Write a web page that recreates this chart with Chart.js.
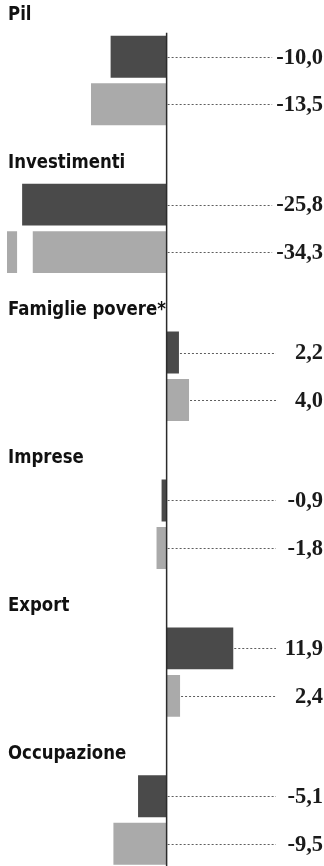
<!DOCTYPE html>
<html>
<head>
<meta charset="utf-8">
<script src="https://cdn.jsdelivr.net/npm/chart.js@4/dist/chart.umd.min.js"></script>
<style>
  html, body { margin: 0; padding: 0; background: #fff; overflow: hidden; }
  #wrap { position: relative; width: 324px; height: 900px; }
</style>
</head>
<body>
<div id="wrap"><canvas id="chart"></canvas></div>
<script>
// Variazioni percentuali per indicatore
const categories = ['Pil', 'Investimenti', 'Famiglie povere*', 'Imprese', 'Export', 'Occupazione'];
const seriesDark = [-10.0, -25.8, 2.2, -0.9, 11.9, -5.1];
const seriesLight = [-13.5, -34.3, 4.0, -1.8, 2.4, -9.5];

// Valori oltre il limite dell'asse: barra interrotta fra questi due valori
const BREAK_FROM = -26.7;
const BREAK_TO = -23.9;

const fmt = v => v.toFixed(1).replace('.', ',');

const annotate = {
  id: 'annotate',
  afterDatasetsDraw(chart) {
    const { ctx, chartArea, scales } = chart;
    const x = scales.x, y = scales.y;
    const zero = x.getPixelForValue(0);

    // interruzione delle barre fuori scala
    chart.data.datasets.forEach((ds, di) => {
      const meta = chart.getDatasetMeta(di);
      ds.data.forEach((v, i) => {
        if (v < x.min) {
          const bar = meta.data[i];
          const x0 = x.getPixelForValue(BREAK_FROM);
          const x1 = x.getPixelForValue(BREAK_TO);
          ctx.save();
          ctx.fillStyle = '#ffffff';
          ctx.fillRect(x0, bar.y - bar.height / 2 - 1, x1 - x0, bar.height + 2);
          ctx.restore();
        }
      });
    });

    // asse verticale dello zero
    const firstBar = chart.getDatasetMeta(0).data[0];
    ctx.save();
    ctx.strokeStyle = '#2b2b2b';
    ctx.lineWidth = 1.5;
    ctx.beginPath();
    ctx.moveTo(zero, firstBar.y - firstBar.height / 2 - 3);
    ctx.lineTo(zero, chart.height);
    ctx.stroke();
    ctx.restore();

    // titoli delle categorie
    ctx.save();
    ctx.fillStyle = '#111';
    ctx.font = "bold 20px 'DejaVu Sans Condensed', 'DejaVu Sans', sans-serif";
    ctx.textBaseline = 'middle';
    ctx.textAlign = 'left';
    categories.forEach((c, i) => {
      ctx.save();
      ctx.translate(8, y.getPixelForValue(i) - 66);
      ctx.scale(0.92, 1);
      ctx.fillText(c, 0, 0);
      ctx.restore();
    });
    ctx.restore();

    // linee di richiamo ed etichette dei valori
    const labelRight = chartArea.right - 1;
    ctx.save();
    ctx.font = "bold 22.5px 'Liberation Serif', 'DejaVu Serif', serif";
    chart.data.datasets.forEach((ds, di) => {
      const meta = chart.getDatasetMeta(di);
      ds.data.forEach((v, i) => {
        const bar = meta.data[i];
        const text = fmt(v);
        const w = ctx.measureText(text).width;
        const startX = v >= 0 ? x.getPixelForValue(v) : zero;
        const endX = Math.min(labelRight - 47, labelRight - w - 4);
        ctx.strokeStyle = '#5e5e5e';
        ctx.lineWidth = 1;
        ctx.setLineDash([2, 2]);
        ctx.beginPath();
        ctx.moveTo(startX + 1, Math.round(bar.y) + 0.5);
        ctx.lineTo(endX, Math.round(bar.y) + 0.5);
        ctx.stroke();
        ctx.setLineDash([]);
        ctx.fillStyle = '#1a1a1a';
        ctx.textAlign = 'right';
        ctx.textBaseline = 'middle';
        ctx.fillText(text, labelRight, bar.y + 1);
      });
    });
    ctx.restore();
  }
};

new Chart(document.getElementById('chart'), {
  type: 'bar',
  data: {
    labels: categories,
    datasets: [
      { label: 'A', data: seriesDark, backgroundColor: '#4a4a4a', borderWidth: 0 },
      { label: 'B', data: seriesLight, backgroundColor: '#aaaaaa', borderWidth: 0 }
    ]
  },
  options: {
    indexAxis: 'y',
    responsive: true,
    maintainAspectRatio: false,
    animation: false,
    categoryPercentage: 0.642,
    barPercentage: 0.884,
    layout: { padding: { left: 7, right: 0, top: 6.5, bottom: 6 } },
    plugins: { legend: { display: false }, tooltip: { enabled: false } },
    scales: {
      x: { display: false, min: -28.5, max: 28.1, grid: { display: false } },
      y: { display: false, grid: { display: false } }
    }
  },
  plugins: [annotate]
});
</script>
</body>
</html>
